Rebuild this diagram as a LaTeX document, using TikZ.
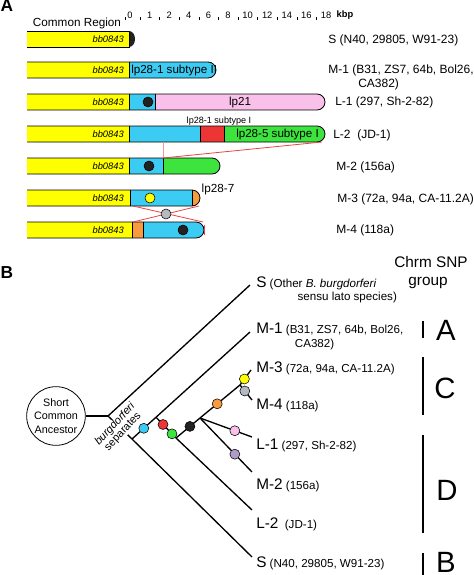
\documentclass[tikz,border=0pt]{standalone}
\usepackage{fontspec}
\setmainfont{Liberation Sans}
\usetikzlibrary{positioning}

\definecolor{lpyellow}{HTML}{FFFF00}
\definecolor{lpcyan}{HTML}{3CCBF2}
\definecolor{lppink}{HTML}{F9C0EA}
\definecolor{lpgreen}{HTML}{3DE43D}
\definecolor{lpred}{HTML}{EE3535}
\definecolor{lporange}{HTML}{F89A3E}
\definecolor{lpgrey}{HTML}{B5B9C1}
\definecolor{lppurple}{HTML}{AE9BC9}
\definecolor{lpblack}{HTML}{222222}
\definecolor{linkred}{HTML}{E84444}

\newcommand{\strainname}[1]{{\fontsize{11.5}{13}\selectfont #1}}

\tikzset{
	outline/.style={draw=black, line width=0.6pt, rounded corners=6pt},
	divider/.style={draw=black, line width=0.6pt},
	gene/.style={anchor=east, inner sep=0pt, font=\fontsize{7}{8}\selectfont\itshape},
	plasmid/.style={inner sep=0pt, font=\fontsize{8.7}{10}\selectfont},
	strain/.style={anchor=west, inner sep=0pt, align=left, font=\fontsize{9}{10}\selectfont},
	dot/.style={circle, draw=black, line width=0.4pt, minimum size=7.5pt, inner sep=0pt},
	link/.style={draw=linkred, line width=0.6pt},
	branch/.style={line width=1pt},
	leaf/.style={anchor=west, inner sep=0pt, align=left, font=\fontsize{8.7}{10}\selectfont},
	groupbar/.style={line width=2.2pt},
	grouplabel/.style={inner sep=0pt, font=\fontsize{22}{24}\selectfont},
	header/.style={inner sep=0pt, font=\fontsize{11.5}{13}\selectfont},
	panel/.style={inner sep=0pt, font=\fontsize{13}{14}\selectfont\bfseries},
	scalenum/.style={inner sep=0pt, font=\fontsize{7}{8}\selectfont}
}

\begin{document}
\begin{tikzpicture}[x=0.75pt, y=-0.75pt]
	\useasboundingbox (0,0) rectangle (474,575);
	
	% panel A
	\node[panel] (panelA) at (7,6) {A};
	\node[inner sep=0pt, font=\fontsize{8.8}{10}\selectfont] (common) at (77,23) {Common Region};
	
	% scale
	\foreach \n [count=\i from 0] in {0,1,2,4,6,8,10,12,14,16,18}{
		\node[scalenum] (num\i) at (130+19.6*\i,15) {\n};
	}
	\foreach \i in {0,...,9}{
		\draw[line width=0.4pt] (140+19.6*\i,17) -- (140+19.6*\i,19.5);
	}
	\draw[line width=0.4pt] (125,17) -- (125,19.5);
	\node[scalenum, font=\fontsize{7}{8}\selectfont\bfseries] (kbp) at (345,15) {kbp};
	
	% S
	\begin{scope}[shift={(0,31)}]
		\fill[lpyellow] (27,0) rectangle (129,16);
		\fill[lpblack] (129,0) .. controls (137,0) and (137,16) .. (129,16) -- cycle;
		\draw[divider] (27,0) -- (129,0) -- (129,16) -- (27,16);
		\node[gene] (geneS) at (124,8) {bb0843};
	\end{scope}
	\node[strain] (strainS) at (328,40) {S (N40, 29805, W91-23)};
	
	% M-1
	\begin{scope}[shift={(0,62)}]
		\fill[lpcyan, rounded corners=6pt] (27,0) rectangle (216,16);
		\fill[lpyellow] (27,0) rectangle (129,16);
		\draw[outline] (27,0) -- (216,0) -- (216,16) -- (27,16);
		\draw[divider] (129,0) -- (129,16);
		\node[gene] (geneM1) at (124,8) {bb0843};
		\node[plasmid, anchor=west] (lpM1) at (131,8) {lp28-1 subtype II};
	\end{scope}
	\node[strain] (strainM1) at (328,77.5) {M-1 (B31, ZS7, 64b, Bol26,\\\hspace*{22.5pt}CA382)};
	
	% L-1
	\begin{scope}[shift={(0,94)}]
		\fill[lppink, rounded corners=6pt] (27,0) rectangle (325,16);
		\fill[lpcyan] (27,0) rectangle (155,16);
		\fill[lpyellow] (27,0) rectangle (129,16);
		\draw[outline] (27,0) -- (325,0) -- (325,16) -- (27,16);
		\draw[divider] (129,0) -- (129,16);
		\draw[divider] (155,0) -- (155,16);
		\node[dot, fill=lpblack] (dotL1) at (148,8) {};
		\node[gene] (geneL1) at (124,8) {bb0843};
		\node[plasmid] (lpL1) at (240,8) {lp21};
	\end{scope}
	\node[strain] (strainL1) at (335,102) {L-1 (297, Sh-2-82)};
	
	% L-2
	\begin{scope}[shift={(0,126)}]
		\fill[lpgreen, rounded corners=6pt] (27,0) rectangle (325,16);
		\fill[lpred] (27,0) rectangle (224,16);
		\fill[lpcyan] (27,0) rectangle (200,16);
		\fill[lpyellow] (27,0) rectangle (129,16);
		\draw[outline] (27,0) -- (325,0) -- (325,16) -- (27,16);
		\draw[divider] (129,0) -- (129,16);
		\draw[divider] (200,0) -- (200,16);
		\draw[divider] (224,0) -- (224,16);
		\node[gene] (geneL2) at (124,8) {bb0843};
		\node[plasmid, anchor=west] (lpL2) at (236,8) {lp28-5 subtype I};
		\node[inner sep=0pt, font=\fontsize{6.8}{8}\selectfont] (lpL2b) at (219,-5) {lp28-1 subtype I};
	\end{scope}
	\node[strain] (strainL2) at (333,135) {L-2~~(JD-1)};
	
	% M-2
	\begin{scope}[shift={(0,158)}]
		\fill[lpgreen, rounded corners=6pt] (27,0) rectangle (220,16);
		\fill[lpcyan] (27,0) rectangle (163,16);
		\fill[lpyellow] (27,0) rectangle (129,16);
		\draw[outline] (27,0) -- (220,0) -- (220,16) -- (27,16);
		\draw[divider] (129,0) -- (129,16);
		\draw[divider] (163,0) -- (163,16);
		\node[dot, fill=lpblack] (dotM2) at (149,8) {};
		\node[gene] (geneM2) at (124,8) {bb0843};
	\end{scope}
	\node[strain] (strainM2) at (336,167) {M-2 (156a)};
	
	% M-3
	\begin{scope}[shift={(0,190)}]
		\fill[lporange, rounded corners=6pt] (27,0) rectangle (200,16);
		\fill[lpcyan] (27,0) rectangle (192,16);
		\fill[lpyellow] (27,0) rectangle (130,16);
		\draw[outline] (27,0) -- (200,0) -- (200,16) -- (27,16);
		\draw[divider] (130,0) -- (130,16);
		\draw[divider] (192,0) -- (192,16);
		\node[dot, fill=lpyellow] (dotM3) at (150,8) {};
		\node[gene] (geneM3) at (124,8) {bb0843};
		\node[plasmid, font=\fontsize{8.8}{10}\selectfont] (lpM3) at (218,-1) {lp28-7};
	\end{scope}
	\node[strain] (strainM3) at (337,199) {M-3 (72a, 94a, CA-11.2A)};
	
	% M-4
	\begin{scope}[shift={(0,222)}]
		\fill[lpcyan, rounded corners=6pt] (27,0) rectangle (204,16);
		\fill[lporange] (27,0) rectangle (143,16);
		\fill[lpyellow] (27,0) rectangle (132.5,16);
		\draw[outline] (27,0) -- (204,0) -- (204,16) -- (27,16);
		\draw[divider] (132.5,0) -- (132.5,16);
		\draw[divider] (143,0) -- (143,16);
		\node[dot, fill=lpblack] (dotM4) at (183,8) {};
		\node[gene] (geneM4) at (124,8) {bb0843};
	\end{scope}
	\node[strain] (strainM4) at (336,230) {M-4 (118a)};
	
	% links between rows
	\draw[link, draw=linkred!55] (163,142) -- (163,158);
	\draw[link] (163,158) -- (322,142);
	\draw[link] (133,206) -- (203,222);
	\draw[link] (199,206) -- (133,222);
	\draw[link] (204,225) -- (204,235);
	\node[dot, fill=lpgrey] (crossDot) at (166,214) {};
	
	% panel B
	\node[panel] (panelB) at (7,273) {B};
	\node[header] (chrm) at (431,262) {Chrm SNP};
	\node[header] (grp) at (428,283) {group};
	
	\node[circle, draw, line width=0.6pt, minimum size=44pt, inner sep=0pt, align=center,
		font=\fontsize{8.1}{10.3}\selectfont] (anc) at (56,416) {Short\\Common\\Ancestor};
	
	\coordinate (root) at (108,416);
	\coordinate (n1) at (132,439);
	\coordinate (n2a) at (156,417.2);
	\coordinate (n2) at (176,438);
	\coordinate (n3) at (200,418);
	\coordinate (n4) at (240,385);
	
	\coordinate (eSo) at (250,285);
	\coordinate (eM1) at (250,332);
	\coordinate (eM3) at (251,370);
	\coordinate (eM4) at (252,400);
	\coordinate (eL1) at (252,437);
	\coordinate (eM2) at (252,472);
	\coordinate (eL2) at (252,510);
	\coordinate (eSn) at (252,557);
	
	% tree
	\draw[branch] (anc) -- (root);
	\draw[branch] (root) -- (n1);
	\node[rotate=47, fill=white, inner sep=0.3pt, align=center,
		font=\fontsize{8.2}{8}\selectfont] (sep) at (119,428) {\textit{burgdorferi}\\separates};
	\draw[branch] (root) -- (eSo);
	\draw[branch] (n1) -- (eSn);
	\draw[branch] (n1) -- node[dot, fill=lpcyan, pos=0.1] (dCyan) {} (eM1);
	\draw[branch] (n2a) -- node[dot, fill=lpred, pos=0.35] (dRed) {}
		node[dot, fill=lpgreen, pos=0.8] (dGreen) {} (n2);
	\draw[branch] (n2) -- (eL2);
	\draw[branch] (n2) -- node[dot, fill=lpblack, pos=0.58] (dBlack) {} (n3);
	\draw[branch] (n3) -- node[dot, fill=lppink, pos=0.67] (dPink) {} (eL1);
	\draw[branch] (n3) -- node[dot, fill=lppurple, pos=0.67] (dPurple) {} (eM2);
	\draw[branch] (n3) -- node[dot, fill=lporange, pos=0.43] (dOrange) {} (n4);
	\draw[branch] (n4) -- node[dot, fill=lpyellow, pos=0.4] (dYellow) {} (eM3);
	\draw[branch] (n4) -- node[dot, fill=lpgrey, pos=0.4] (dGrey) {} (eM4);
	
	% leaves
	\node[leaf] (leafSo) at (256,290) {\strainname{S} (Other \textit{B. burgdorferi}\\\hspace*{31pt}sensu lato species)};
	\node[leaf] (leafM1) at (256,336.5) {\strainname{M-1} (B31, ZS7, 64b, Bol26,\\\hspace*{29pt}CA382)};
	\node[leaf] (leafM3) at (256,368) {\strainname{M-3} (72a, 94a, CA-11.2A)};
	\node[leaf] (leafM4) at (256,405) {\strainname{M-4} (118a)};
	\node[leaf] (leafL1) at (256,445) {\strainname{L-1} (297, Sh-2-82)};
	\node[leaf] (leafM2) at (256,485) {\strainname{M-2} (156a)};
	\node[leaf] (leafL2) at (256,524) {\strainname{L-2}~~(JD-1)};
	\node[leaf] (leafSn) at (256,563) {\strainname{S} (N40, 29805, W91-23)};
	
	% groups
	\draw[groupbar] (423,321) -- (423,338);
	\node[grouplabel] (grpA) at (446,330) {A};
	\draw[groupbar] (423,357) -- (423,415);
	\node[grouplabel] (grpC) at (445,388) {C};
	\draw[groupbar] (423,435) -- (423,533);
	\node[grouplabel] (grpD) at (447,490) {D};
	\draw[groupbar] (423,553) -- (423,575);
	\node[grouplabel] (grpB) at (446,562) {B};
	
\end{tikzpicture}
\end{document}
